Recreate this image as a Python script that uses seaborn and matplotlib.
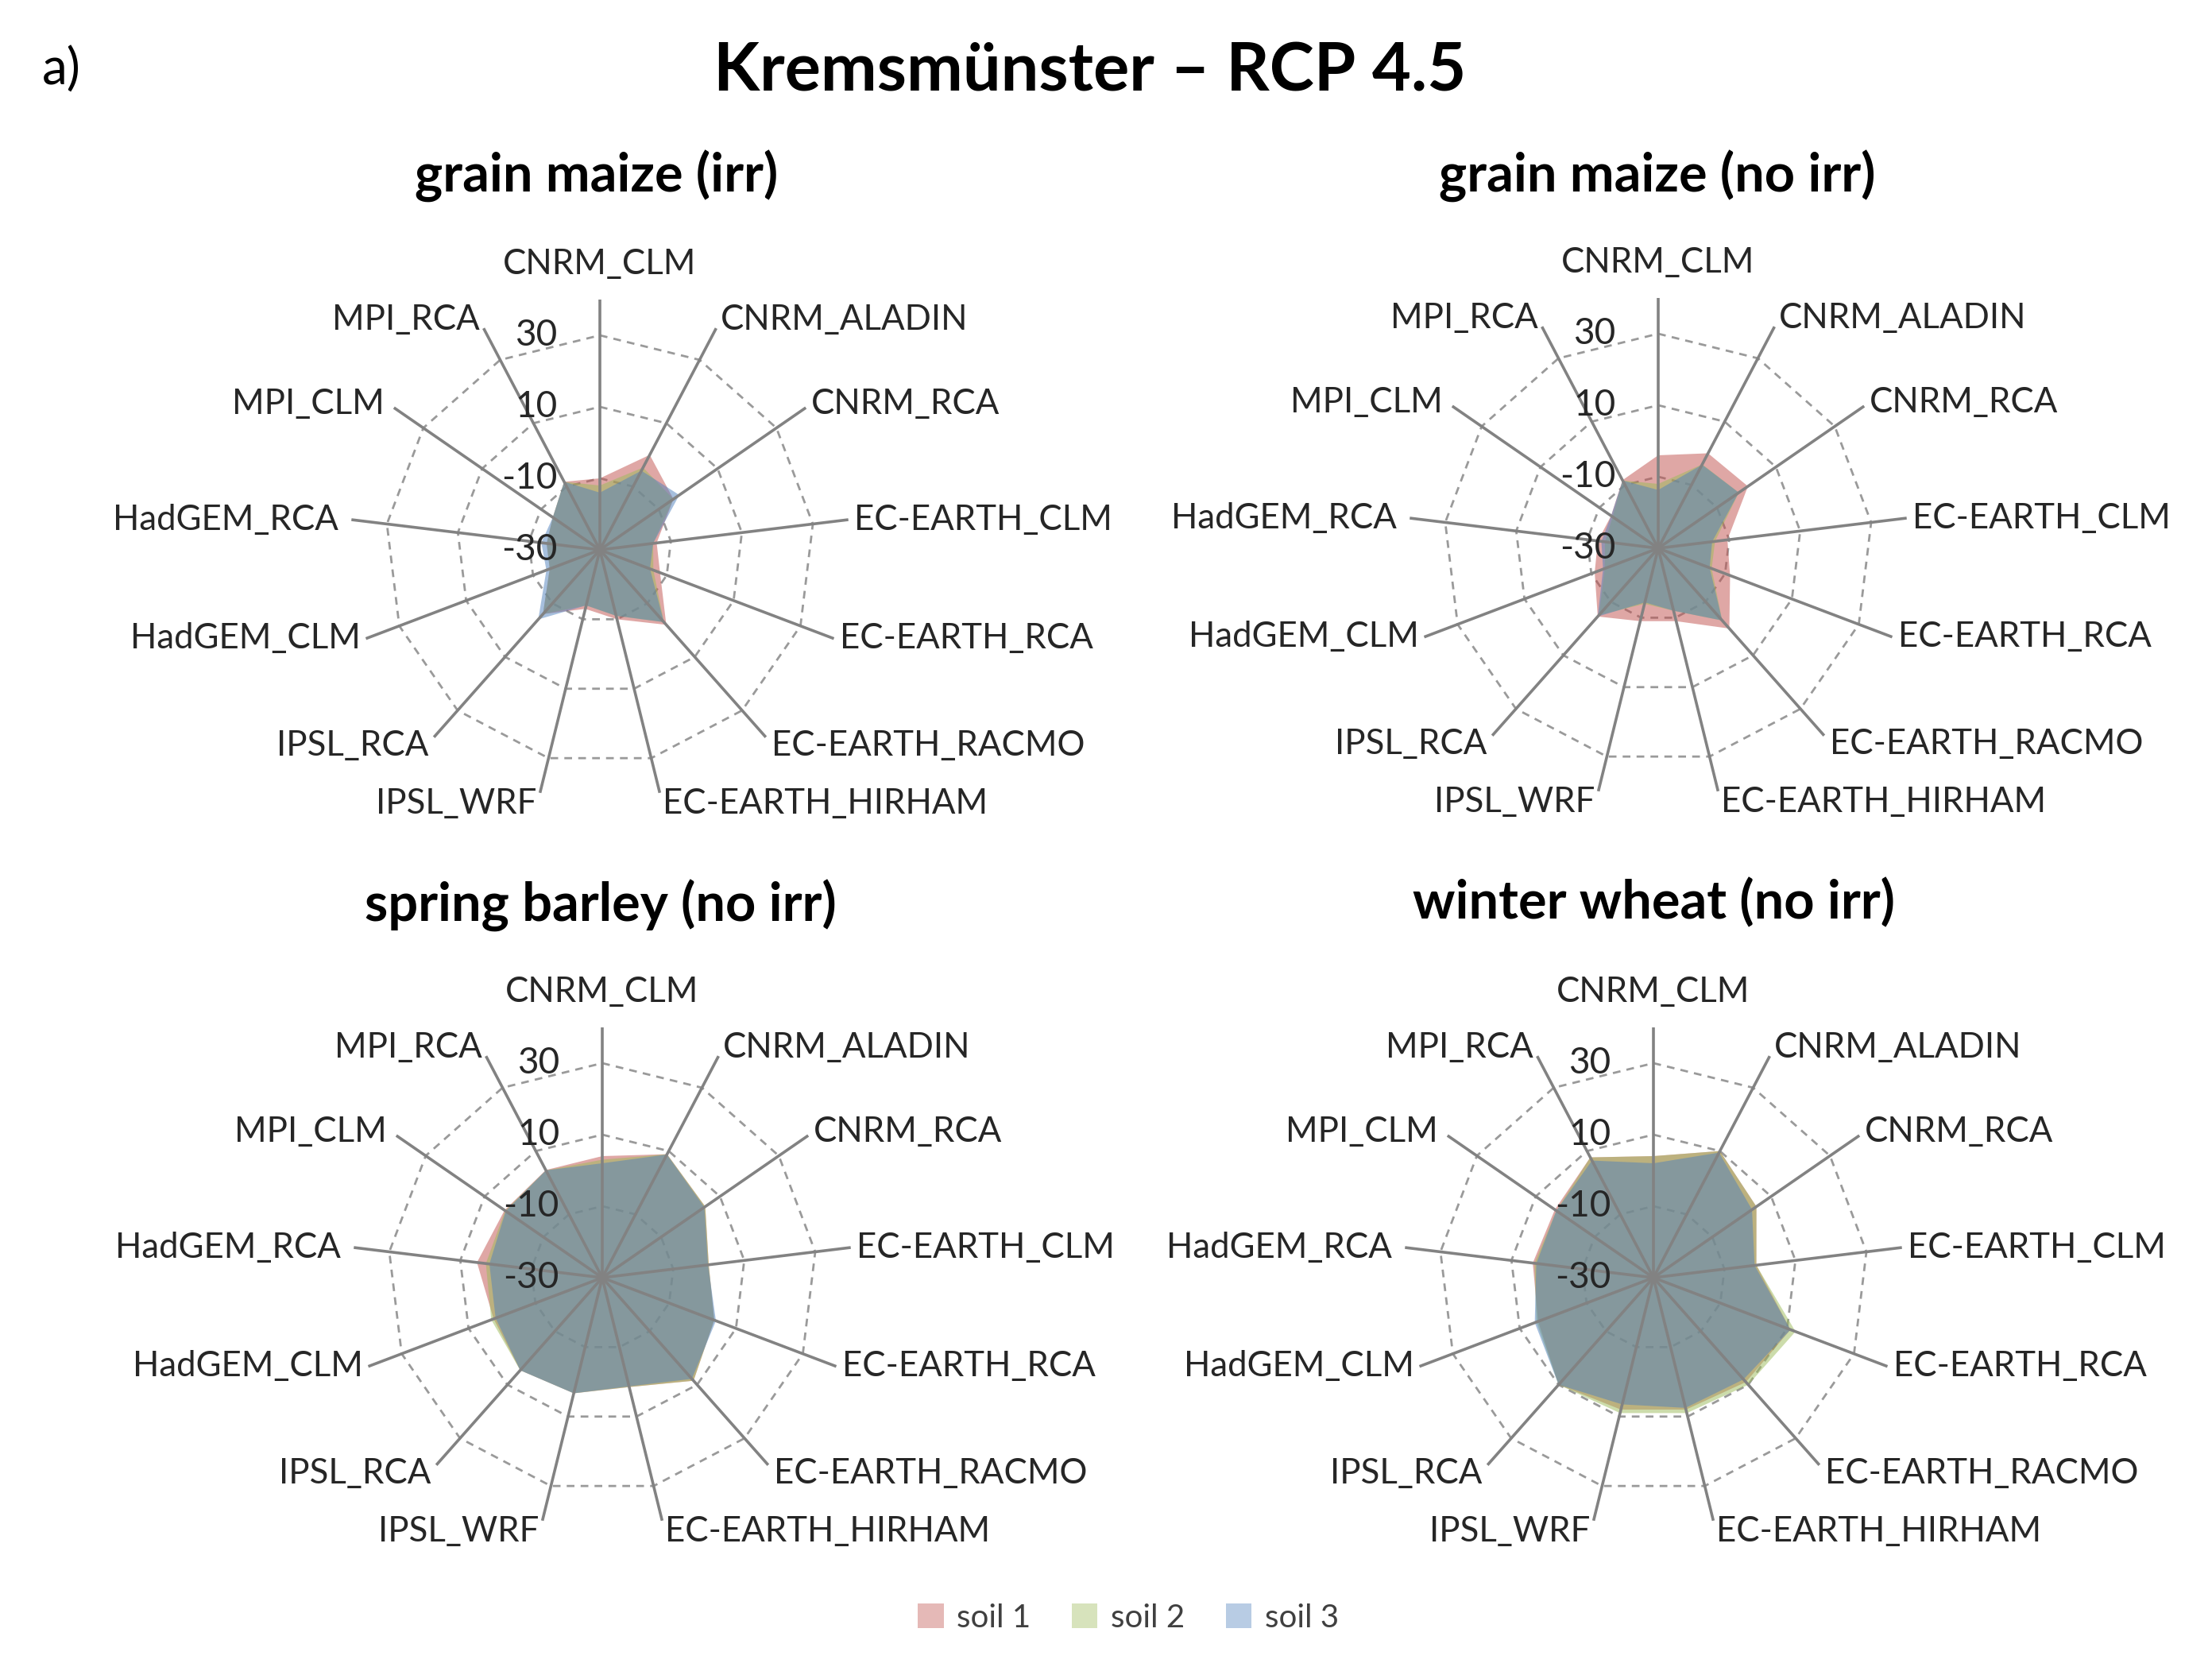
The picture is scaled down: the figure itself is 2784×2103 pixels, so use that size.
import numpy as np
import pandas as pd
import matplotlib
matplotlib.use('Agg')
import matplotlib.pyplot as plt
import seaborn as sns
from matplotlib.patches import Patch

sns.set_theme(style='white')
plt.rcParams['font.family'] = ['Lato', 'DejaVu Sans']

# climate models, clockwise from the top
models = ['CNRM_CLM', 'CNRM_ALADIN', 'CNRM_RCA', 'EC-EARTH_CLM', 'EC-EARTH_RCA',
          'EC-EARTH_RACMO', 'EC-EARTH_HIRHAM', 'IPSL_WRF', 'IPSL_RCA',
          'HadGEM_CLM', 'HadGEM_RCA', 'MPI_CLM', 'MPI_RCA']
soils = ['soil 1', 'soil 2', 'soil 3']
soil_colors = ['#C0504D', '#9BBB59', '#4F81BD']
ring_values = [-10, 10, 30]
tick_values = [-30, -10, 10, 30]

crops = ['grain maize (irr)', 'grain maize (no irr)',
         'spring barley (no irr)', 'winter wheat (no irr)']

# yield change (%) per model
maize_irr_soil1 = [-10, 0, -5, -14, -12, -2, -10, -13, -6, -15, -15, -14, -8.5]
maize_irr_soil2 = [-12, -4, -5, -15, -14, -3, -11, -14, -6, -15, -15, -14, -8.5]
maize_irr_soil3 = [-14, -5, -3, -15, -15, -3, -11, -14, -4, -14, -13.5, -14, -8.5]

maize_noirr_soil1 = [-4, 0, 0.5, -10.5, -8.5, 0, -9, -9, -4.5, -11, -13, -14, -8.5]
maize_noirr_soil2 = [-12, -3.5, -2.6, -14, -14, -3, -12, -14, -5, -14, -15, -14.5, -8.6]
maize_noirr_soil3 = [-13.7, -3.6, -2.6, -14.8, -14.6, -3, -12, -14.4, -4.5, -13.5, -14, -14, -8.6]

barley_soil1 = [4, 9, 5, 0, 3.5, 8.5, 1.5, 3.3, 4.6, 2.5, 5.3, 3.2, 4]
barley_soil2 = [3, 9, 5, 0, 3.5, 8.5, 1.5, 3.3, 4.6, 3.2, 2.8, 3, 3.9]
barley_soil3 = [2, 8.9, 4.7, -0.2, 4, 7.8, 1.3, 3.3, 4.6, 1.9, 1.8, 2.8, 3.9]

wheat_soil1 = [4, 10, 5, -1, 11, 9, 8, 8, 10, 4.5, 4, 3.5, 8]
wheat_soil2 = [4, 10, 5, -1, 12.5, 10, 9, 9, 10, 5, 3.5, 3, 8]
wheat_soil3 = [2, 9.5, 3.5, -1.5, 11, 8, 7.5, 6.5, 10, 5.5, 3, 3, 7]

panel_data = {
    crops[0]: [maize_irr_soil1, maize_irr_soil2, maize_irr_soil3],
    crops[1]: [maize_noirr_soil1, maize_noirr_soil2, maize_noirr_soil3],
    crops[2]: [barley_soil1, barley_soil2, barley_soil3],
    crops[3]: [wheat_soil1, wheat_soil2, wheat_soil3],
}

rows = []
for crop, series in panel_data.items():
    for soil, vals in zip(soils, series):
        for m, v in zip(models, vals):
            rows.append((crop, soil, m, v))
df = pd.DataFrame(rows, columns=['crop', 'soil', 'model', 'change'])

palette = dict(zip(soils, sns.color_palette(soil_colors)))

W, H = 2784, 2103
fig = plt.figure(figsize=(W / 100, H / 100), dpi=100)

# panel centres in pixels
centres = [(755, 692), (2087, 690), (758, 1608), (2081, 1608)]
title_pos = [(751, 222), (2086, 222), (756, 1140), (2081, 1137)]
half = 315

n = len(models)
theta = np.linspace(0, 2 * np.pi, n, endpoint=False)
theta_c = np.append(theta, theta[0])

# label nudges (pixels) per model, Excel-style placement around the spoke ends
label_dx = [0, 5, 7, 7, 7, 7, 4, -4, -7, -7, -16, -12, -5]
label_dy = [24, -10, 5, 0, 0, 10, 7, 7, 10, 0, 0, 5, -10]

for crop, (cx, cy), (tx, ty) in zip(crops, centres, title_pos):
    ax = fig.add_axes([(cx - half) / W, 1 - (cy + half) / H, 2 * half / W, 2 * half / H],
                      projection='polar')
    ax.set_theta_zero_location('N')
    ax.set_theta_direction(-1)
    ax.set_ylim(-30, 40)
    ax.set_xticks(theta)
    ax.set_xticklabels([])
    ax.set_yticks([])
    ax.spines['polar'].set_visible(False)
    ax.set_facecolor('none')
    ax.set_axisbelow(False)
    ax.xaxis.grid(True, color='#828282', lw=2.6)

    for v in ring_values:
        ax.plot(theta_c, [v] * (n + 1), ls=(0, (3.5, 2.8)), color='#9a9a9a',
                lw=2.0, zorder=0.8)

    sub = df[df['crop'] == crop]
    for soil in soils:
        vals = sub[sub['soil'] == soil].set_index('model').loc[models, 'change'].values
        ax.fill(theta_c, np.append(vals, vals[0]), color=palette[soil],
                alpha=0.5, lw=0, zorder=1)

    for k, (name, t) in enumerate(zip(models, theta)):
        s, c = np.sin(t), np.cos(t)
        if abs(s) < 0.1:
            ha = 'center'
        elif s > 0:
            ha = 'left'
        else:
            ha = 'right'
        if c > 0.8:
            va = 'bottom'
        elif c > -0.5:
            va = 'center'
        else:
            va = 'top'
        ax.annotate(name, xy=(t, 40), xytext=(label_dx[k], label_dy[k]),
                    textcoords='offset pixels', ha=ha, va=va, fontsize=31.5,
                    color='#262626', annotation_clip=False)

    for v in tick_values:
        ax.annotate(str(v), xy=(0, v), xytext=(-54, 0), textcoords='offset pixels',
                    ha='right', va='center', fontsize=33, color='#262626',
                    annotation_clip=False, zorder=5)

    fig.text(tx / W, 1 - ty / H, crop, ha='center', va='center',
             fontsize=48, fontweight='bold', color='black')

fig.text(1372 / W, 1 - 90 / H, 'Kremsmünster – RCP 4.5', ha='center', va='center',
         fontsize=61, fontweight='bold', color='black')
fig.text(53 / W, 1 - 88 / H, 'a)', ha='left', va='center', fontsize=46, color='black')

handles = [Patch(facecolor=palette[s], alpha=0.4, edgecolor='none') for s in soils]
leg = fig.legend(handles, soils, loc='center', bbox_to_anchor=(1420 / W, 1 - 2036 / H),
                 ncol=3, frameon=False, fontsize=29, handlelength=0.8, handleheight=0.8,
                 columnspacing=1.3, handletextpad=0.4)
for t in leg.get_texts():
    t.set_color('#404040')

fig.savefig('out.png', dpi=100, facecolor='white')
